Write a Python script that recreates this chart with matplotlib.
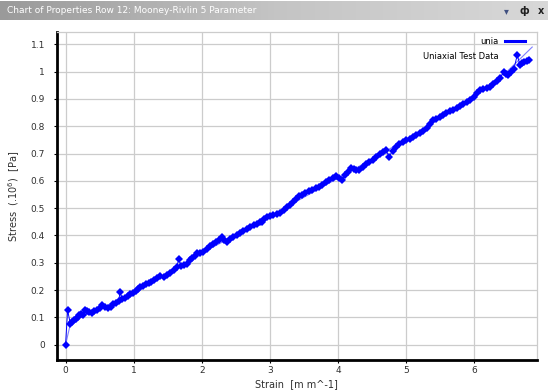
import numpy as np
import matplotlib
matplotlib.use("Agg")
import matplotlib.pyplot as plt
from matplotlib.lines import Line2D

# Uniaxial test data (strain [m m^-1], stress [Pa x 10^6])
strain = [0, 0.03, 0.07, 0.10, 0.12, 0.15, 0.18, 0.20, 0.23, 0.26, 0.29, 0.32, 0.35, 0.39,
          0.42, 0.46, 0.50, 0.54, 0.58, 0.62, 0.66, 0.70, 0.74, 0.78, 0.80, 0.83, 0.87, 0.91,
          0.95, 0.99, 1.03, 1.07, 1.10, 1.14, 1.18, 1.22, 1.26, 1.30, 1.34, 1.39, 1.44, 1.49,
          1.54, 1.59, 1.63, 1.66, 1.70, 1.74, 1.78, 1.82, 1.86, 1.90, 1.93, 1.97, 2.02, 2.07,
          2.12, 2.17, 2.21, 2.25, 2.29, 2.33, 2.37, 2.41, 2.46, 2.51, 2.56, 2.61, 2.66, 2.71,
          2.76, 2.81, 2.85, 2.88, 2.92, 2.95, 3.00, 3.05, 3.10, 3.15, 3.20, 3.25, 3.29, 3.34,
          3.38, 3.42, 3.47, 3.52, 3.57, 3.62, 3.67, 3.72, 3.77, 3.82, 3.87, 3.92, 3.97, 4.02,
          4.06, 4.10, 4.15, 4.19, 4.23, 4.27, 4.31, 4.36, 4.41, 4.46, 4.51, 4.56, 4.61, 4.66,
          4.70, 4.75, 4.80, 4.85, 4.90, 4.95, 5.00, 5.05, 5.10, 5.15, 5.20, 5.25, 5.30, 5.35,
          5.39, 5.44, 5.49, 5.54, 5.59, 5.64, 5.69, 5.74, 5.79, 5.84, 5.89, 5.94, 5.99, 6.04,
          6.08, 6.13, 6.18, 6.23, 6.28, 6.33, 6.38, 6.43, 6.47, 6.50, 6.54, 6.58, 6.63, 6.67,
          6.70, 6.73, 6.77, 6.80]
stress = [0, 0.126, 0.077, 0.082, 0.089, 0.095, 0.100, 0.108, 0.112, 0.110, 0.128, 0.122, 0.120, 0.116,
          0.122, 0.126, 0.133, 0.144, 0.139, 0.135, 0.138, 0.148, 0.153, 0.160, 0.193, 0.169, 0.172, 0.178,
          0.187, 0.191, 0.198, 0.204, 0.212, 0.216, 0.222, 0.227, 0.231, 0.236, 0.243, 0.251, 0.248, 0.255,
          0.264, 0.272, 0.283, 0.312, 0.287, 0.293, 0.297, 0.310, 0.318, 0.326, 0.334, 0.336, 0.340, 0.350,
          0.360, 0.368, 0.376, 0.385, 0.393, 0.383, 0.377, 0.386, 0.393, 0.401, 0.410, 0.417, 0.424, 0.432,
          0.437, 0.443, 0.448, 0.450, 0.460, 0.469, 0.470, 0.474, 0.478, 0.481, 0.492, 0.503, 0.512, 0.524,
          0.535, 0.543, 0.549, 0.555, 0.561, 0.566, 0.572, 0.578, 0.585, 0.594, 0.602, 0.609, 0.616, 0.612,
          0.604, 0.620, 0.634, 0.646, 0.643, 0.641, 0.640, 0.650, 0.660, 0.668, 0.677, 0.688, 0.697, 0.706,
          0.713, 0.689, 0.710, 0.725, 0.735, 0.744, 0.750, 0.755, 0.761, 0.768, 0.776, 0.784, 0.793, 0.808,
          0.823, 0.828, 0.834, 0.841, 0.848, 0.854, 0.860, 0.866, 0.873, 0.881, 0.888, 0.896, 0.908, 0.921,
          0.933, 0.937, 0.941, 0.945, 0.955, 0.966, 0.976, 1.000, 0.992, 0.988, 0.998, 1.008, 1.061, 1.024,
          1.030, 1.035, 1.040, 1.044]

# Mooney-Rivlin 5 parameter fit curve
fit_strain = [0, 0.07, 0.25, 0.5, 1.0, 1.5, 2.0, 2.5, 3.0, 3.5, 4.0, 4.5, 5.0, 5.5, 6.0, 6.5, 6.85]
fit_stress = [0, 0.075, 0.105, 0.13, 0.192, 0.262, 0.335, 0.403, 0.47, 0.54, 0.61, 0.68, 0.752, 0.828,
              0.912, 1.005, 1.09]

xticks = [0, 1, 2, 3, 4, 5, 6]
yticks = [0, 0.1, 0.2, 0.3, 0.4, 0.5, 0.6, 0.7, 0.8, 0.9, 1.0, 1.1]

fig = plt.figure(figsize=(5.48, 3.92), dpi=100)

# panel header bar
hdr = fig.add_axes([0, 1 - 20 / 392, 1, 19 / 392])
grad = np.linspace(0, 1, 256).reshape(1, -1)
hdr.imshow(grad, aspect="auto", cmap=matplotlib.colors.LinearSegmentedColormap.from_list(
    "bar", ["#9a9a9a", "#c4c4c4", "#d8d8d8"]), extent=[0, 1, 0, 1])
hdr.set_xlim(0, 1)
hdr.set_ylim(0, 1)
hdr.axis("off")
hdr.text(0.012, 0.5, "Chart of Properties Row 12: Mooney-Rivlin 5 Parameter", color="white",
         fontsize=6.5, va="center", ha="left")
hdr.text(0.925, 0.45, "▾", color="#405080", fontsize=7, va="center", ha="center")
hdr.text(0.957, 0.5, "ф", color="#202020", fontsize=7, va="center", ha="center", fontweight="bold")
hdr.text(0.987, 0.5, "x", color="#202020", fontsize=7, va="center", ha="center", fontweight="bold")

ax = fig.add_axes([56.7 / 548, 1 - 360 / 392, (537 - 56.7) / 548, (360 - 32) / 392])
ax.plot(fit_strain, fit_stress, color="#7f7fff", lw=0.8, zorder=2)
ax.plot(strain, stress, color="#0000ff", lw=0.7, marker="D", markersize=3.8,
        markeredgewidth=0, zorder=3)

ax.set_xlim(-0.13, 6.92)
ax.set_ylim(-0.056, 1.145)
ax.set_xticks(xticks)
ax.set_yticks(yticks)
ax.set_xticklabels(["%g" % v for v in xticks])
ax.set_yticklabels(["%g" % v for v in yticks])
ax.tick_params(labelsize=6.5, labelcolor="#303030", length=2.5, width=0.8)
ax.tick_params(axis="y", pad=6)
ax.tick_params(axis="x", pad=2)
ax.grid(True, color="#cccccc", lw=0.9)
ax.set_axisbelow(True)

for s in ["left", "bottom"]:
    ax.spines[s].set_linewidth(2)
    ax.spines[s].set_color("black")
for s in ["top", "right"]:
    ax.spines[s].set_linewidth(0.9)
    ax.spines[s].set_color("#cccccc")

ax.set_xlabel("Strain  [m m^-1]", fontsize=7, color="#303030")
ax.xaxis.set_label_coords(0.5, -0.058)
ax.set_ylabel("Stress  (.10$^6$)  [Pa]", fontsize=7, color="#303030", labelpad=6)

handles = [Line2D([], [], color="#0000ff", lw=2.2),
           Line2D([], [], color="none")]
ax.legend(handles, ["unia", "Uniaxial Test Data"], loc="upper right", frameon=False,
          markerfirst=False, fontsize=6, handlelength=2.4, labelspacing=0.7,
          borderaxespad=0.2, bbox_to_anchor=(0.985, 1.0))

fig.savefig("out.png", dpi=100)
